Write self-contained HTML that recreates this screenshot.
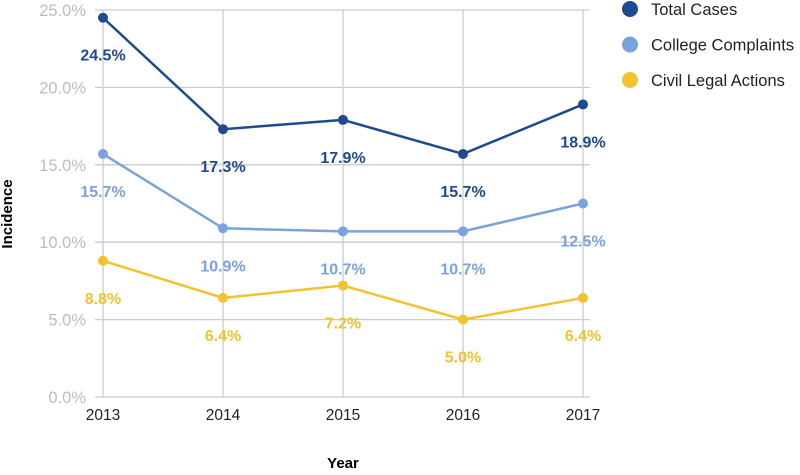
<!DOCTYPE html>
<html><head><meta charset="utf-8"><style>
body{margin:0;background:#fff;font-family:"Liberation Sans",sans-serif}
svg text{font-family:"Liberation Sans",sans-serif}
</style></head><body>
<svg id="chart" width="800" height="470" xmlns="http://www.w3.org/2000/svg">
<g id="grid"></g>
<g id="series"></g>
<text x="8" y="214" transform="rotate(-90 8 214)" text-anchor="middle" dominant-baseline="middle" font-size="15" font-weight="bold">Incidence</text>
<text x="343" y="468" text-anchor="middle" font-size="15" font-weight="bold">Year</text>
<g id="legend"></g>
</svg>
<script>
const years=["2013","2014","2015","2016","2017"];
const totalCases=[24.5,17.3,17.9,15.7,18.9];
const collegeComplaints=[15.7,10.9,10.7,10.7,12.5];
const civilLegal=[8.8,6.4,7.2,5.0,6.4];
const yTicks=[0,5,10,15,20,25];
const seriesNames=["Total Cases","College Complaints","Civil Legal Actions"];
const NS="http://www.w3.org/2000/svg";
const colors=["#1f4a8f","#7aa2dc","#f3c22f"];
const x0=103,x1=583,yTop=10,yBot=397;
function xs(i){return x0+(x1-x0)*i/(years.length-1);}
function ys(v){return yBot-(yBot-yTop)*v/25;}
function mk(tag,attrs,parent){const e=document.createElementNS(NS,tag);for(const k in attrs)e.setAttribute(k,attrs[k]);parent.appendChild(e);return e;}
const grid=document.getElementById('grid');
yTicks.forEach(t=>{
 const l=mk('line',{x1:95,x2:590,y1:ys(t),y2:ys(t),stroke:'#cccccc','stroke-width':1.3},grid);
 
 
 const tx=mk('text',{x:86,y:ys(t)+6,'text-anchor':'end','font-size':16.5,fill:'#bdbdbd'},grid);
 tx.textContent=t.toFixed(1)+'%';
 
 
});
years.forEach((y,i)=>{
 const l=mk('line',{x1:xs(i),x2:xs(i),y1:yTop,y2:yBot,stroke:'#cccccc','stroke-width':1.3},grid);
 
 
 const tx=mk('text',{x:xs(i),y:420,'text-anchor':'middle','font-size':15.5,fill:'#222'},grid);
 tx.textContent=y;
 
 
});
const sg=document.getElementById('series');
[totalCases,collegeComplaints,civilLegal].forEach((d,s)=>{
 const p=mk('polyline',{points:d.map((v,i)=>xs(i)+','+ys(v)).join(' '),fill:'none',stroke:colors[s],'stroke-width':2.5},sg);
 
 
 d.forEach((v,i)=>{
  const c=mk('circle',{cx:xs(i),cy:ys(v),r:5,fill:colors[s]},sg);
  
  
  const t=mk('text',{x:xs(i),y:ys(v)+43,'text-anchor':'middle','font-size':16,'font-weight':'bold',fill:colors[s]},sg);
  t.textContent=v.toFixed(1)+'%';
  
  
 });
});
const lg=document.getElementById('legend');
seriesNames.forEach((n,i)=>{
 const c=mk('circle',{cx:630,cy:9+35.5*i,r:8,fill:colors[i]},lg);
 
 
 const t=mk('text',{x:651,y:15+35.5*i,'font-size':16.5,fill:'#222'},lg);
 t.textContent=n;
 
 
});
</script>
</body></html>
